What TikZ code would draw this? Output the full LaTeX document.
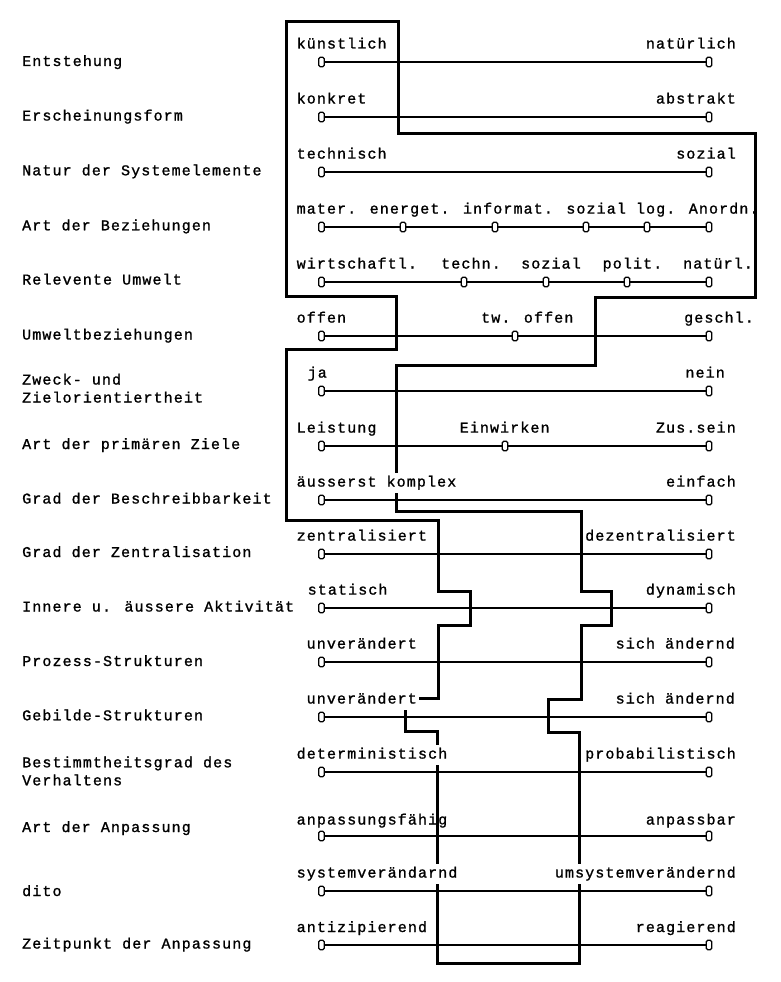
\documentclass[tikz,border=0pt]{standalone}
\usepackage{fontspec}
\newfontfamily\dotfont[LetterSpace=7.4,FakeBold=1.2]{Liberation Mono}

\begin{document}
\begin{tikzpicture}[x=1pt,y=-1pt,
        knob/.style={draw,line width=1.3pt,fill=white,rounded corners=1.5pt,minimum width=5.5pt,minimum height=9.5pt,inner sep=0pt},
        rail/.style={line width=1.8pt},
        pole/.style={font=\dotfont\fontsize{15}{18}\selectfont,inner sep=0pt},
        polegap/.style={pole,fill=white,inner xsep=2pt,inner ysep=3pt,text height=11pt,text depth=3pt},
        crit/.style={pole,anchor=base west},
        profile/.style={line width=3pt,line join=miter}]
        \useasboundingbox (0,0) rectangle (780,982);

        % profile line
        \draw[profile] (398.3,21.7) -- (286.7,21.7) -- (286.7,296) -- (396.7,296) -- (396.7,349)
            -- (286.7,349) -- (286.7,520.7) -- (438.3,520.7) -- (438.3,591) -- (470.7,591)
            -- (470.7,625) -- (438.3,625) -- (438.3,698) -- (405,698) -- (405,731) -- (437.3,731)
            -- (437.3,963.3) -- (579.5,963.3) -- (579.5,732.7) -- (548.3,732.7) -- (548.3,699)
            -- (581,699) -- (581,625) -- (611.7,625) -- (611.7,591) -- (581.5,591) -- (581.5,511.7)
            -- (396.7,511.7) -- (396.7,365) -- (595,365) -- (595,297) -- (755,297) -- (755,133)
            -- (398.3,133) -- cycle;

        % criteria
        \node[crit] (c1)  at (22,66)    {Entstehung};
        \node[crit] (c2)  at (22,120.5) {Erscheinungsform};
        \node[crit] (c3)  at (22,175.3) {Natur der Systemelemente};
        \node[crit] (c4)  at (22,230.3) {Art der Beziehungen};
        \node[crit] (c5)  at (22,284.5) {Relevente Umwelt};
        \node[crit] (c6)  at (22,339.5) {Umweltbeziehungen};
        \node[crit] (c7)  at (22,384.5) {Zweck- und};
        \node[crit] (c7b) at (22,402.5) {Zielorientiertheit};
        \node[crit] (c8)  at (22,449)   {Art der primären Ziele};
        \node[crit] (c9)  at (22,503.5) {Grad der Beschreibbarkeit};
        \node[crit] (c10) at (22,557)   {Grad der Zentralisation};
        \node[crit] (c11) at (22,611.5) {Innere u. äussere Aktivität};
        \node[crit] (c12) at (22,666)   {Prozess-Strukturen};
        \node[crit] (c13) at (22,720.3) {Gebilde-Strukturen};
        \node[crit] (c14) at (22,767.3) {Bestimmtheitsgrad des};
        \node[crit] (c14b) at (22,785.3) {Verhaltens};
        \node[crit] (c15) at (22,832)   {Art der Anpassung};
        \node[crit] (c16) at (22,896)   {dito};
        \node[crit] (c17) at (22,948.5) {Zeitpunkt der Anpassung};

        % knobs
        \node[knob] (l1)  at (321.5,62)  {};  \node[knob] (r1)  at (709,62)  {};
        \node[knob] (l2)  at (321.5,117) {};  \node[knob] (r2)  at (709,117) {};
        \node[knob] (l3)  at (321.5,172) {};  \node[knob] (r3)  at (709,172) {};
        \node[knob] (l4)  at (321.5,227) {};  \node[knob] (r4)  at (709,227) {};
        \node[knob] (m4a) at (403,227) {};
        \node[knob] (m4b) at (495,227) {};
        \node[knob] (m4c) at (586,227) {};
        \node[knob] (m4d) at (647,227) {};
        \node[knob] (l5)  at (321.5,282) {};  \node[knob] (r5)  at (709,282) {};
        \node[knob] (m5a) at (464,282) {};
        \node[knob] (m5b) at (546,282) {};
        \node[knob] (m5c) at (627,282) {};
        \node[knob] (l6)  at (321.5,336) {};  \node[knob] (r6)  at (709,336) {};
        \node[knob] (m6)  at (515,336) {};
        \node[knob] (l7)  at (321.5,391) {};  \node[knob] (r7)  at (709,391) {};
        \node[knob] (l8)  at (321.5,446) {};  \node[knob] (r8)  at (709,446) {};
        \node[knob] (m8)  at (505,446) {};
        \node[knob] (l9)  at (321.5,500) {};  \node[knob] (r9)  at (709,500) {};
        \node[knob] (l10) at (321.5,554) {};  \node[knob] (r10) at (709,554) {};
        \node[knob] (l11) at (321.5,608) {};  \node[knob] (r11) at (709,608) {};
        \node[knob] (l12) at (321.5,662) {};  \node[knob] (r12) at (709,662) {};
        \node[knob] (l13) at (321.5,717) {};  \node[knob] (r13) at (709,717) {};
        \node[knob] (l14) at (321.5,772) {};  \node[knob] (r14) at (709,772) {};
        \node[knob] (l15) at (321.5,836) {};  \node[knob] (r15) at (709,836) {};
        \node[knob] (l16) at (321.5,891) {};  \node[knob] (r16) at (709,891) {};
        \node[knob] (l17) at (321.5,945) {};  \node[knob] (r17) at (709,945) {};

        \path[rail] (l1) edge (r1)  (l2) edge (r2)  (l3) edge (r3)
                    (l4) edge (m4a)  (m4a) edge (m4b)  (m4b) edge (m4c)  (m4c) edge (m4d)  (m4d) edge (r4)
                    (l5) edge (m5a)  (m5a) edge (m5b)  (m5b) edge (m5c)  (m5c) edge (r5)
                    (l6) edge (m6)  (m6) edge (r6)
                    (l7) edge (r7)
                    (l8) edge (m8)  (m8) edge (r8)
                    (l9) edge (r9)  (l10) edge (r10)  (l11) edge (r11)  (l12) edge (r12)
                    (l13) edge (r13)  (l14) edge (r14)  (l15) edge (r15)  (l16) edge (r16)
                    (l17) edge (r17);

        % poles
        \node[pole,anchor=base west] (p1a) at (296.5,48.5) {künstlich};
        \node[pole,anchor=base east] (p1b) at (736,48.5) {natürlich};
        \node[pole,anchor=base west] (p2a) at (296.5,103.5) {konkret};
        \node[pole,anchor=base east] (p2b) at (736,103.5) {abstrakt};
        \node[pole,anchor=base west] (p3a) at (296.5,158.6) {technisch};
        \node[pole,anchor=base east] (p3b) at (736,158.6) {sozial};
        \node[pole,anchor=base west] (p4)  at (296.5,213.6) {mater. energet. informat. sozial log. Anordn.};
        \node[pole,anchor=base west] (p5a) at (296.5,268.5) {wirtschaftl.};
        \node[pole,anchor=base west] (p5b) at (441,268.5) {techn.};
        \node[pole,anchor=base west] (p5c) at (521,268.5) {sozial};
        \node[pole,anchor=base west] (p5d) at (602.5,268.5) {polit.};
        \node[pole,anchor=base west] (p5e) at (683,268.5) {natürl.};
        \node[pole,anchor=base west] (p6a) at (296.5,322.6) {offen};
        \node[pole,anchor=base west] (p6b) at (481,322.6) {tw. offen};
        \node[pole,anchor=base west] (p6c) at (684,322.6) {geschl.};
        \node[pole,anchor=base west] (p7a) at (307.5,377.6) {ja};
        \node[pole,anchor=base east] (p7b) at (725,377.6) {nein};
        \node[pole,anchor=base west] (p8a) at (296.5,432.6) {Leistung};
        \node[pole,anchor=base west] (p8b) at (459.5,432.6) {Einwirken};
        \node[pole,anchor=base east] (p8c) at (736,432.6) {Zus.sein};
        \node[polegap,anchor=base west] (p9a) at (294.5,486.6) {äusserst komplex};
        \node[pole,anchor=base east] (p9b) at (736,486.6) {einfach};
        \node[pole,anchor=base west] (p10a) at (296.5,540.6) {zentralisiert};
        \node[polegap,anchor=base east] (p10b) at (738,540.6) {dezentralisiert};
        \node[pole,anchor=base west] (p11a) at (307.5,594.6) {statisch};
        \node[pole,anchor=base east] (p11b) at (736,594.6) {dynamisch};
        \node[pole,anchor=base west] (p12a) at (306.5,648.5) {unverändert};
        \node[pole,anchor=base east] (p12b) at (735,648.5) {sich ändernd};
        \node[polegap,anchor=base west] (p13a) at (304.5,703.5) {unverändert};
        \node[pole,anchor=base east] (p13b) at (735,703.5) {sich ändernd};
        \node[polegap,anchor=base west] (p14a) at (294.5,758.6) {deterministisch};
        \node[pole,anchor=base east] (p14b) at (736,758.6) {probabilistisch};
        \node[pole,anchor=base west] (p15a) at (296.5,824.5) {anpassungsfähig};
        \node[pole,anchor=base east] (p15b) at (736,824.5) {anpassbar};
        \node[polegap,anchor=base west] (p16a) at (294.5,877.5) {systemverändarnd};
        \node[polegap,anchor=base east] (p16b) at (738,877.5) {umsystemverändernd};
        \node[pole,anchor=base west] (p17a) at (296.5,932) {antizipierend};
        \node[pole,anchor=base east] (p17b) at (736,932) {reagierend};
    \end{tikzpicture}
\end{document}
